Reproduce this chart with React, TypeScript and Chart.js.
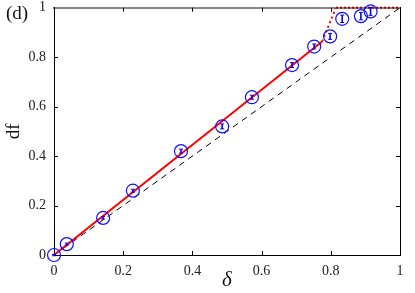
import React, { useEffect, useRef } from "react";
import { Chart, registerables } from "chart.js";

Chart.register(...registerables);

const deltaValues = [0, 0.037, 0.142, 0.228, 0.367, 0.486, 0.572, 0.688, 0.752, 0.798, 0.833, 0.887, 0.915];
const dfValues = [0, 0.044, 0.15, 0.26, 0.42, 0.52, 0.638, 0.768, 0.843, 0.884, 0.955, 0.966, 0.985];
const dfErrors = [0.003, 0.004, 0.005, 0.006, 0.008, 0.01, 0.008, 0.01, 0.01, 0.012, 0.015, 0.015, 0.016];
const tickValues = [0, 0.2, 0.4, 0.6, 0.8, 1];
const diagonalX = [0, 1];
const diagonalY = [0, 1];
const fitSolidX = [0, 0.775];
const fitSolidY = [0, 0.863];
const fitDottedX = [0.775, 0.815];
const fitDottedY = [0.863, 1];
const plateauX = [0.815, 1];
const plateauY = [1, 1];

const FONT = "'Liberation Serif', 'Times New Roman', serif";

const toPts = (xs: number[], ys: number[]) => xs.map((x, i) => ({ x, y: ys[i] }));
const fmt = (v: any) => String(parseFloat(Number(v).toFixed(2)));

const extrasPlugin = {
  id: "extras",
  afterDatasetsDraw(chart: any) {
    const ctx = chart.ctx;
    const xs = chart.scales.x;
    const ys = chart.scales.y;
    const area = chart.chartArea;
    ctx.save();
    ctx.strokeStyle = "#0000ee";
    deltaValues.forEach((d, i) => {
      const px = xs.getPixelForValue(d);
      const top = ys.getPixelForValue(dfValues[i] + dfErrors[i]);
      const bot = ys.getPixelForValue(dfValues[i] - dfErrors[i]);
      ctx.lineWidth = 1.6;
      ctx.beginPath();
      ctx.moveTo(px, top);
      ctx.lineTo(px, bot);
      ctx.stroke();
      ctx.lineWidth = 1;
      ctx.beginPath();
      ctx.moveTo(px - 2, top);
      ctx.lineTo(px + 2, top);
      ctx.moveTo(px - 2, bot);
      ctx.lineTo(px + 2, bot);
      ctx.stroke();
    });
    ctx.strokeStyle = "#000";
    ctx.lineWidth = 1;
    const len = 4;
    tickValues.slice(1, -1).forEach((v) => {
      const px = Math.round(xs.getPixelForValue(v)) + 0.5;
      const py = Math.round(ys.getPixelForValue(v)) + 0.5;
      ctx.beginPath();
      ctx.moveTo(px, area.bottom);
      ctx.lineTo(px, area.bottom - len);
      ctx.moveTo(px, area.top);
      ctx.lineTo(px, area.top + len);
      ctx.moveTo(area.left, py);
      ctx.lineTo(area.left + len, py);
      ctx.moveTo(area.right, py);
      ctx.lineTo(area.right - len, py);
      ctx.stroke();
    });
    ctx.fillStyle = "#111";
    ctx.font = `19px ${FONT}`;
    ctx.textAlign = "left";
    ctx.textBaseline = "middle";
    ctx.fillText("(d)", 6, 14);
    ctx.restore();
  },
};

export default function App() {
  const ref = useRef<HTMLCanvasElement>(null);
  useEffect(() => {
    document.body.style.margin = "0";
    const setTicks = (scale: any) => {
      scale.ticks = tickValues.map((v) => ({ value: v }));
    };
    const zeroPad = (s: any) => {
      s.paddingTop = 0;
      s.paddingBottom = 0;
      s.paddingLeft = 0;
      s.paddingRight = 0;
    };
    const chart = new Chart(ref.current as HTMLCanvasElement, {
      type: "scatter",
      data: {
        datasets: [
          {
            data: toPts(deltaValues, dfValues),
            pointRadius: 6.5,
            pointBorderColor: "#1010ff",
            pointBackgroundColor: "rgba(0,0,0,0)",
            pointBorderWidth: 1.2,
            showLine: false,
            clip: false,
          } as any,
          {
            data: toPts(fitSolidX, fitSolidY),
            showLine: true,
            borderColor: "#ff0000",
            borderWidth: 2,
            pointRadius: 0,
          },
          {
            data: toPts(fitDottedX, fitDottedY),
            showLine: true,
            borderColor: "#ff0000",
            borderWidth: 2,
            borderDash: [2, 3],
            pointRadius: 0,
          },
          {
            data: toPts(plateauX, plateauY),
            showLine: true,
            borderColor: "#b00000",
            borderWidth: 2,
            borderDash: [2, 2],
            pointRadius: 0,
            clip: false,
          } as any,
          {
            data: toPts(diagonalX, diagonalY),
            showLine: true,
            borderColor: "#000",
            borderWidth: 1,
            borderDash: [6, 5],
            pointRadius: 0,
          },
        ],
      },
      options: {
        animation: false,
        responsive: false,
        maintainAspectRatio: false,
        layout: { padding: 0 },
        plugins: { legend: { display: false }, tooltip: { enabled: false } },
        scales: {
          x: {
            type: "linear",
            position: "bottom",
            min: 0,
            max: 1,
            afterBuildTicks: setTicks,
            afterFit: (s: any) => {
              s.height = 38;
              zeroPad(s);
            },
            ticks: {
              font: { family: FONT, size: 14 },
              color: "#222",
              padding: 8,
              maxRotation: 0,
              callback: fmt,
            },
            grid: { drawOnChartArea: false, drawTicks: false },
            border: { color: "#000", width: 1 },
            title: {
              display: true,
              text: "δ",
              font: { family: FONT, size: 21, style: "italic" },
              color: "#111",
              padding: 0,
            },
          },
          x2: {
            type: "linear",
            position: "top",
            min: 0,
            max: 1,
            afterFit: (s: any) => {
              s.height = 7;
              zeroPad(s);
            },
            ticks: { display: false },
            grid: { drawOnChartArea: false, drawTicks: false },
            border: { color: "#888", width: 2 },
          },
          y: {
            type: "linear",
            position: "left",
            min: 0,
            max: 1,
            afterBuildTicks: setTicks,
            afterFit: (s: any) => {
              s.width = 54;
              zeroPad(s);
            },
            ticks: {
              font: { family: FONT, size: 14 },
              color: "#222",
              padding: 8,
              callback: fmt,
            },
            grid: { drawOnChartArea: false, drawTicks: false },
            border: { color: "#000", width: 1 },
            title: {
              display: true,
              text: "df",
              font: { family: FONT, size: 19 },
              color: "#111",
              padding: { top: 3, bottom: 0 },
            },
          },
          y2: {
            type: "linear",
            position: "right",
            min: 0,
            max: 1,
            afterFit: (s: any) => {
              s.width = 15;
              zeroPad(s);
            },
            ticks: { display: false },
            grid: { drawOnChartArea: false, drawTicks: false },
            border: { color: "#000", width: 1 },
          },
        },
      },
      plugins: [extrasPlugin],
    });
    return () => chart.destroy();
  }, []);
  return (
    <div style={{ width: 415, height: 293 }}>
      <canvas ref={ref} width={415} height={293} />
    </div>
  );
}
